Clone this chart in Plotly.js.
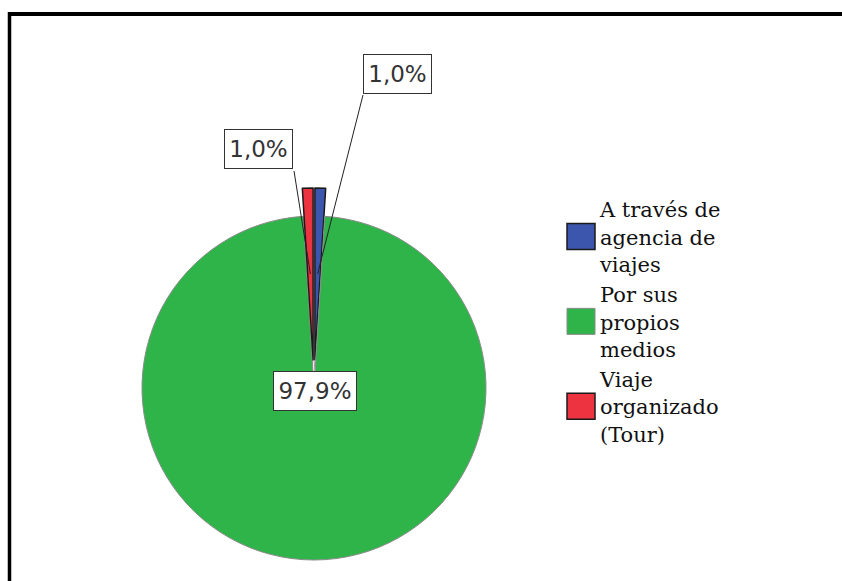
<!DOCTYPE html>
<html>
<head>
<meta charset="utf-8">
<script src="https://cdn.plot.ly/plotly-3.0.1.min.js"></script>
<style>
  html, body { margin: 0; padding: 0; background: #fff; }
  #wrap { width: 842px; height: 581px; overflow: hidden; position: relative; }
  #chart { width: 842px; height: 620px; }
</style>
</head>
<body>
<div id="wrap"><div id="chart"></div></div>
<script>
// ---- data ----
const categories = ['A través de<br>agencia de<br>viajes', 'Por sus<br>propios<br>medios', 'Viaje<br>organizado<br>(Tour)'];
const percents = [1.0, 97.9, 1.0];

// ---- style ----
const colors = ['#3c56ad', '#2fb44a', '#ee3340'];
const lineColors = ['#1a1a1a', '#8a8a8a', '#1a1a1a'];
const lineWidths = [1.5, 1, 1.5];
const pulls = [0.163, 0, 0.163];

const W = 842, H = 620;
const cx = 314, cy = 388, r = 172;
const maxPull = Math.max(...pulls);
const half = r * (1 + maxPull);
const px2x = p => p / W;
const px2y = p => 1 - p / H;

// label boxes (pixel centre, inner size) and leader-line start (pixel)
const labelCenters = [[397, 74], [315, 391], [258, 149]];
const labelSizes = [[59, 30], [74, 30], [59, 30]];
const lineStarts = [[363, 95], [315, 371], [294, 171]];

function fmt(v) { return v.toFixed(1).replace('.', ',') + '%'; }

// geometry of slices for leader line targets
const total = percents.reduce((a, b) => a + b, 0);
let cum = 0;
const targets = percents.map((v, i) => {
  const mid = (cum + v / 2) / total * 2 * Math.PI;
  cum += v;
  if (i === 1) {
    // green label points at the apex of the pulled wedges
    return [cx, cy - pulls[0] * r];
  }
  const d = pulls[i] * r + 0.5 * r;
  return [cx + d * Math.sin(mid), cy - d * Math.cos(mid)];
});

const trace = {
  type: 'pie',
  labels: categories,
  values: percents,
  sort: false,
  direction: 'clockwise',
  rotation: 0,
  pull: pulls,
  textinfo: 'none',
  textposition: 'none',
  hoverinfo: 'label+value',
  marker: { colors: colors, line: { color: lineColors, width: lineWidths } },
  domain: { x: [px2x(cx - half), px2x(cx + half)], y: [px2y(cy + half), px2y(cy - half)] }
};

const annotations = percents.map((v, i) => ({
  xref: 'paper', yref: 'paper',
  x: px2x(labelCenters[i][0]), y: px2y(labelCenters[i][1]),
  xanchor: 'center', yanchor: 'middle',
  width: labelSizes[i][0], height: labelSizes[i][1],
  text: fmt(v), showarrow: false,
  font: { family: 'DejaVu Sans', size: 23, color: '#333' },
  bgcolor: '#ffffff', bordercolor: '#333', borderwidth: 1, borderpad: 4
}));

const shapes = [];
percents.forEach((v, i) => {
  shapes.push({
    type: 'line', xref: 'paper', yref: 'paper', layer: 'above',
    x0: px2x(lineStarts[i][0]), y0: px2y(lineStarts[i][1]),
    x1: px2x(targets[i][0]), y1: px2y(targets[i][1]),
    line: { color: i === 1 ? '#999' : '#222', width: 1 }
  });
});
// outer frame (top and left edges)
shapes.push({ type: 'line', xref: 'paper', yref: 'paper', x0: px2x(8), x1: 1, y0: px2y(14), y1: px2y(14), line: { color: '#000', width: 4 } });
shapes.push({ type: 'line', xref: 'paper', yref: 'paper', x0: px2x(9.5), x1: px2x(9.5), y0: px2y(12), y1: 0, line: { color: '#000', width: 3.5 } });

const layout = {
  width: W, height: H,
  margin: { l: 0, r: 0, t: 0, b: 0 },
  paper_bgcolor: '#fff',
  showlegend: true,
  legend: {
    x: px2x(560), y: px2y(189), xanchor: 'left', yanchor: 'top',
    font: { family: 'DejaVu Serif', size: 21, color: '#111' },
    bgcolor: 'rgba(0,0,0,0)', traceorder: 'normal', valign: 'middle'
  },
  annotations: annotations,
  shapes: shapes
};

Plotly.newPlot('chart', [trace], layout, { displayModeBar: false }).then(gd => {
  gd.querySelectorAll('.legendpoints path').forEach(p => p.setAttribute('d', 'M15,13H-13V-13H15Z'));
});
</script>
</body>
</html>
